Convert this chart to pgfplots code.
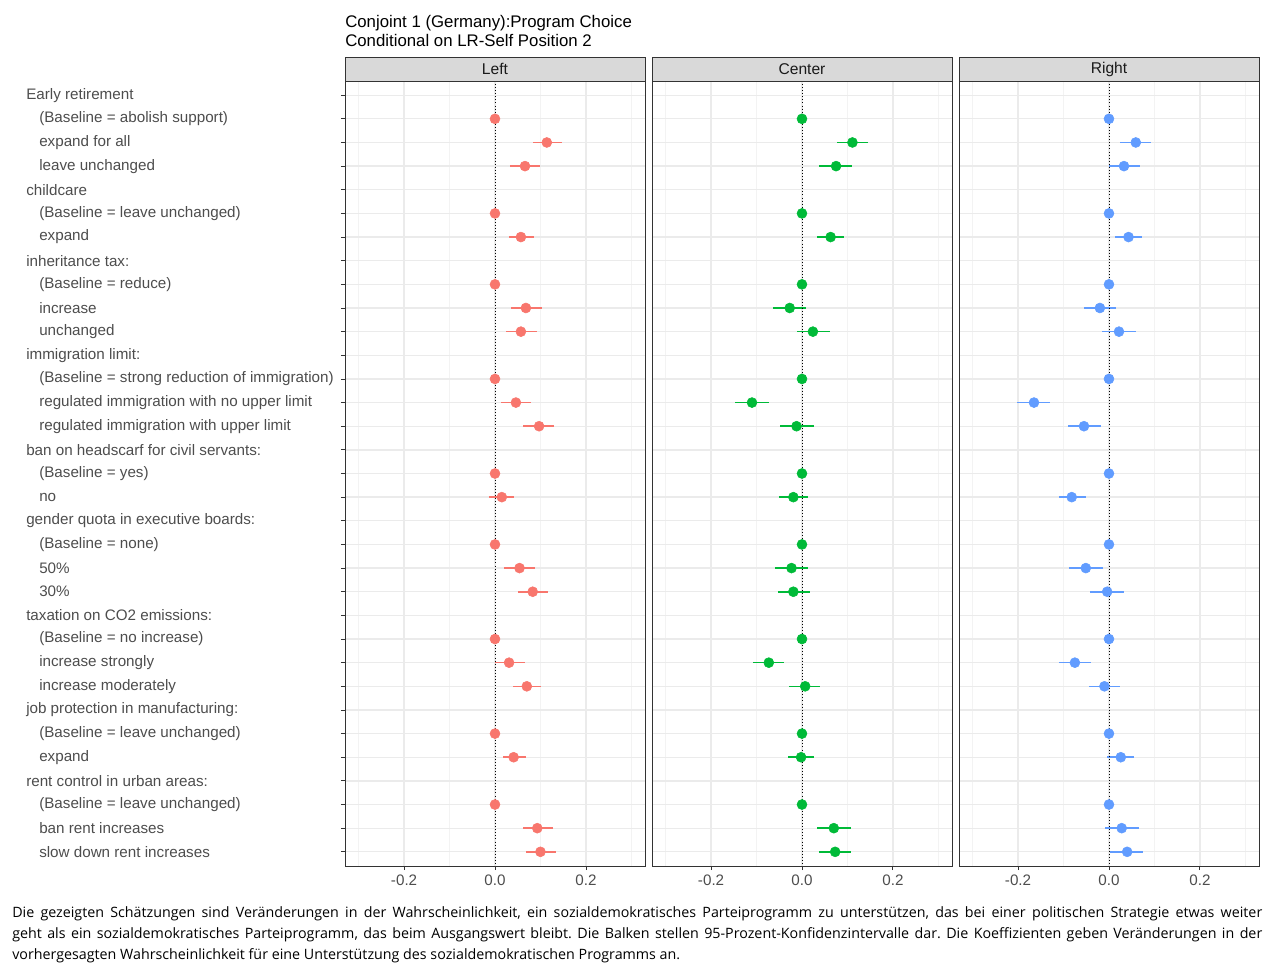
\documentclass[border=0pt]{standalone}
\usepackage{fontspec}
\setmainfont{Liberation Sans}
\newfontfamily\capfont{Open Sans}
\usepackage{pgfplots}
\pgfplotsset{compat=1.18}
\usepgfplotslibrary{groupplots}
\usepackage{pgfplotstable}

\definecolor{cL}{HTML}{F8766D}
\definecolor{cC}{HTML}{00BA38}
\definecolor{cR}{HTML}{619CFF}
\definecolor{gridmaj}{HTML}{EBEBEB}
\definecolor{gridmin}{HTML}{F3F3F3}
\definecolor{g20}{HTML}{333333}
\definecolor{g30}{HTML}{4D4D4D}
\definecolor{g10}{HTML}{1A1A1A}
\definecolor{g85}{HTML}{D9D9D9}

\pgfplotstableread{
row est lo hi
2 0 0 0
3 0.114 0.083 0.147
4 0.066 0.033 0.100
6 0 0 0
7 0.057 0.031 0.085
9 0 0 0
10 0.068 0.035 0.103
11 0.057 0.025 0.092
13 0 0 0
14 0.046 0.013 0.080
15 0.097 0.062 0.130
17 0 0 0
18 0.015 -0.013 0.042
20 0 0 0
21 0.054 0.019 0.089
22 0.083 0.050 0.116
24 0 0 0
25 0.031 -0.001 0.065
26 0.070 0.039 0.101
28 0 0 0
29 0.041 0.017 0.069
31 0 0 0
32 0.093 0.061 0.127
33 0.100 0.068 0.134
}\tL

\pgfplotstableread{
row est lo hi
2 0 0 0
3 0.111 0.077 0.146
4 0.075 0.038 0.110
6 0 0 0
7 0.063 0.034 0.092
9 0 0 0
10 -0.027 -0.063 0.008
11 0.024 -0.012 0.062
13 0 0 0
14 -0.110 -0.147 -0.072
15 -0.012 -0.048 0.026
17 0 0 0
18 -0.019 -0.050 0.014
20 0 0 0
21 -0.023 -0.059 0.014
22 -0.019 -0.053 0.017
24 0 0 0
25 -0.073 -0.108 -0.039
26 0.007 -0.028 0.040
28 0 0 0
29 -0.002 -0.031 0.027
31 0 0 0
32 0.070 0.033 0.107
33 0.073 0.038 0.107
}\tC

\pgfplotstableread{
row est lo hi
2 0 0 0
3 0.059 0.025 0.093
4 0.033 0.000 0.069
6 0 0 0
7 0.043 0.014 0.073
9 0 0 0
10 -0.020 -0.056 0.015
11 0.022 -0.015 0.059
13 0 0 0
14 -0.165 -0.203 -0.130
15 -0.055 -0.091 -0.018
17 0 0 0
18 -0.082 -0.111 -0.051
20 0 0 0
21 -0.051 -0.087 -0.013
22 -0.004 -0.041 0.032
24 0 0 0
25 -0.075 -0.109 -0.040
26 -0.010 -0.044 0.024
28 0 0 0
29 0.026 -0.004 0.056
31 0 0 0
32 0.028 -0.009 0.065
33 0.040 0.003 0.075
}\tR

\newcommand{\ind}{\hspace*{9.75pt}}

\pgfplotsset{
  facet/.style={
    scale only axis, width=225pt, height=588.75pt,
    xmin=-0.33, xmax=0.33, ymin=0.4, ymax=33.6, y dir=reverse,
    xtick={-0.2,0,0.2}, minor xtick={-0.3,-0.1,0.1,0.3},
    ytick={1,...,33},
    grid=both,
    major grid style={gridmaj, line width=1pt},
    minor grid style={gridmin, line width=0.5pt},
    axis line style={g20, line width=0.6pt},
    tick align=outside, major tick length=3pt, minor tick length=0pt,
    tick style={g20, line width=0.6pt},
    xtick pos=bottom, ytick pos=left,
    xticklabel style={font=\fontsize{11.4}{13}\selectfont, text=g30},
    /pgf/number format/.cd, fixed, fixed zerofill, precision=1, assume math mode=true,
  },
  pr/.style={only marks, mark=*, mark size=3.75pt, mark options={draw=#1, fill=#1},
    error bars/.cd, x dir=both, x explicit, error mark=none,
    error bar style={line width=1.2pt, #1}},
  zl/.style={black, line width=0.7pt, dash pattern=on 0.7pt off 1.6pt},
}

\begin{document}
\begin{tikzpicture}
\begin{groupplot}[group style={group size=3 by 1, horizontal sep=5.25pt}, facet]
\nextgroupplot[
  yticklabels={Early retirement, \ind(Baseline = abolish support), \ind expand for all, \ind leave unchanged,
    childcare, \ind(Baseline = leave unchanged), \ind expand,
    inheritance tax:, \ind(Baseline = reduce), \ind increase, \ind unchanged,
    immigration limit:, \ind(Baseline = strong reduction of immigration), \ind regulated immigration with no upper limit, \ind regulated immigration with upper limit,
    ban on headscarf for civil servants:, \ind(Baseline = yes), \ind no,
    gender quota in executive boards:, \ind(Baseline = none), \ind 50\%, \ind 30\%,
    taxation on CO2 emissions:, \ind(Baseline = no increase), \ind increase strongly, \ind increase moderately,
    job protection in manufacturing:, \ind(Baseline = leave unchanged), \ind expand,
    rent control in urban areas:, \ind(Baseline = leave unchanged), \ind ban rent increases, \ind slow down rent increases},
  yticklabel style={anchor=west, inner sep=0pt, xshift=-236.25pt, font=\fontsize{11.4}{13}\selectfont, text=g30},
]
\addplot[pr=cL] table[x=est, y=row, x error plus expr=\thisrow{hi}-\thisrow{est}, x error minus expr=\thisrow{est}-\thisrow{lo}] {\tL};
\addplot[zl] coordinates {(0,0.4) (0,33.6)};
\nextgroupplot[yticklabels={}, ytick style={draw=none}]
\addplot[pr=cC] table[x=est, y=row, x error plus expr=\thisrow{hi}-\thisrow{est}, x error minus expr=\thisrow{est}-\thisrow{lo}] {\tC};
\addplot[zl] coordinates {(0,0.4) (0,33.6)};
\nextgroupplot[yticklabels={}, ytick style={draw=none}]
\addplot[pr=cR] table[x=est, y=row, x error plus expr=\thisrow{hi}-\thisrow{est}, x error minus expr=\thisrow{est}-\thisrow{lo}] {\tR};
\addplot[zl] coordinates {(0,0.4) (0,33.6)};
\end{groupplot}

\foreach \g/\t in {c1r1/Left, c2r1/Center, c3r1/Right}{
  \draw[g20, line width=0.6pt, fill=g85] (group \g.north west) rectangle ([yshift=18pt]group \g.north east);
  \node[text=g10, font=\fontsize{11.7}{13}\selectfont] at ([yshift=9pt]group \g.north) {\t};
}

\node[anchor=north west, inner sep=0pt, align=left, font=\fontsize{12.6}{14}\selectfont]
  at ([yshift=49.5pt]group c1r1.north west) {Conjoint 1 (Germany):Program Choice\\Conditional on LR-Self Position 2};

\node[anchor=north west, inner sep=0pt, text width=937.5pt, align=justify, font=\capfont\fontsize{10.7}{15.75}\selectfont]
  at ([xshift=-249.75pt, yshift=-618.75pt]group c1r1.north west)
  {\frenchspacing Die gezeigten Schätzungen sind Veränderungen in der Wahrscheinlichkeit, ein sozialdemokratisches Parteiprogramm zu unterstützen, das bei einer politischen Strategie etwas weiter\linebreak
  geht als ein sozialdemokratisches Parteiprogramm, das beim Ausgangswert bleibt. Die Balken stellen 95-Prozent-Konfidenzintervalle dar. Die Koeffizienten geben Veränderungen in der\linebreak
  vorhergesagten Wahrscheinlichkeit für eine Unterstützung des sozialdemokratischen Programms an.};

\pgfresetboundingbox
\useasboundingbox ([xshift=-258.75pt, yshift=60.75pt]group c1r1.north west) rectangle ([xshift=690.75pt, yshift=-669.75pt]group c1r1.north west);
\end{tikzpicture}
\end{document}
